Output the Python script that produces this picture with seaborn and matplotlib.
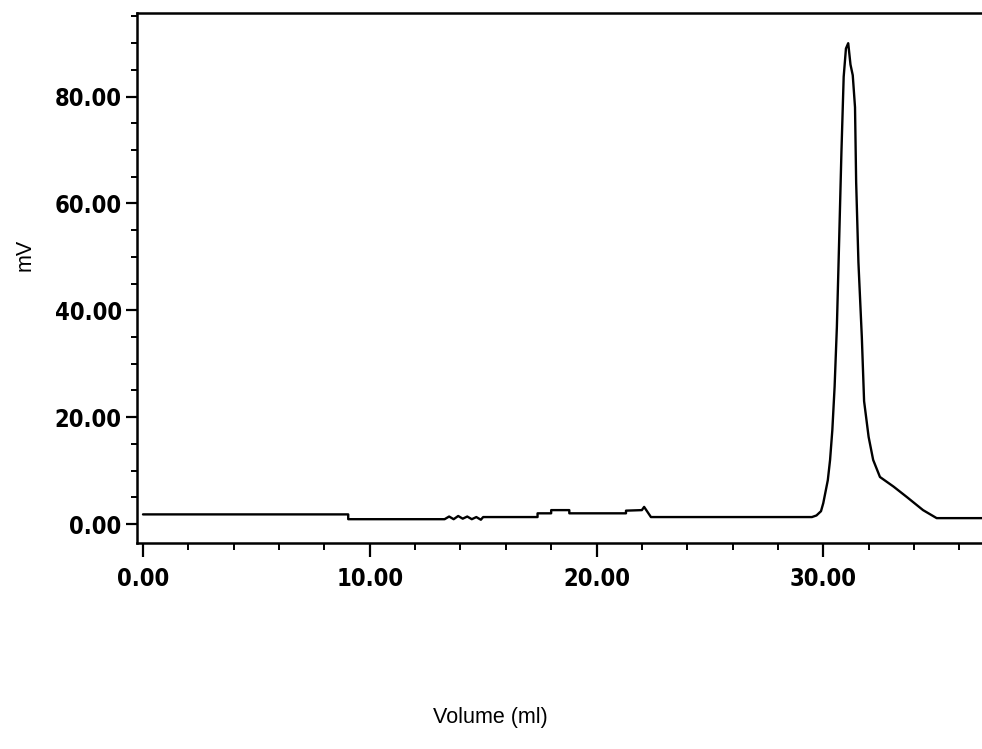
import numpy as np
import pandas as pd
import matplotlib
matplotlib.use("Agg")
import matplotlib.pyplot as plt
from matplotlib.ticker import MultipleLocator, FormatStrFormatter
import seaborn as sns

# Chromatogram trace (volume in ml, signal in mV)
volume = [0.0, 9.05, 9.05, 13.3, 13.5, 13.7, 13.9, 14.1, 14.3, 14.5, 14.7, 14.9, 15.0,
          17.4, 17.4, 18.0, 18.0, 18.8, 18.8, 21.3, 21.3, 22.0, 22.1, 22.4,
          29.5, 29.7, 29.9, 30.0, 30.2, 30.3, 30.4, 30.5, 30.6, 30.7, 30.8, 30.9,
          31.0, 31.1, 31.2, 31.3, 31.4, 31.45, 31.55, 31.7, 31.8, 32.0, 32.2,
          32.5, 33.1, 33.7, 34.4, 35.0, 37.2]
signal = [1.8, 1.8, 0.9, 0.9, 1.4, 0.9, 1.5, 1.0, 1.4, 0.9, 1.3, 0.8, 1.3,
          1.3, 2.0, 2.0, 2.6, 2.6, 2.0, 2.0, 2.5, 2.6, 3.2, 1.3,
          1.3, 1.6, 2.4, 3.9, 8.2, 12.0, 17.6, 25.7, 36.9, 53.0, 69.5, 83.7,
          89.0, 90.0, 86.0, 84.0, 78.0, 64.0, 49.0, 35.0, 23.0, 16.3, 12.0,
          8.8, 7.0, 5.0, 2.6, 1.1, 1.1]

x_major = [0, 10, 20, 30]
y_major = [0, 20, 40, 60, 80]

df = pd.DataFrame({"Volume (ml)": volume, "mV": signal})

sns.set_theme(style="ticks")
plt.rcParams["font.family"] = ["Liberation Sans", "DejaVu Sans"]

fig = plt.figure(figsize=(9.82, 7.49), dpi=100)
ax = fig.add_axes([0.1395, 0.275, 0.8605, 0.708])

sns.lineplot(data=df, x="Volume (ml)", y="mV", sort=False, estimator=None,
             color="black", linewidth=1.7, ax=ax)

ax.set_xlim(-0.265, 37.0)
ax.set_ylim(-3.56, 95.7)

ax.xaxis.set_major_locator(MultipleLocator(10))
ax.xaxis.set_minor_locator(MultipleLocator(2))
ax.yaxis.set_major_locator(MultipleLocator(20))
ax.yaxis.set_minor_locator(MultipleLocator(5))
ax.set_xticks(x_major)
ax.set_yticks(y_major)
ax.xaxis.set_major_formatter(FormatStrFormatter("%.2f"))
ax.yaxis.set_major_formatter(FormatStrFormatter("%.2f"))

for s in ["left", "bottom", "top"]:
    ax.spines[s].set_visible(True)
    ax.spines[s].set_linewidth(1.8)
    ax.spines[s].set_color("black")
ax.spines["right"].set_visible(False)

ax.tick_params(axis="x", which="major", direction="out", length=10, width=1.6, pad=7, colors="black")
ax.tick_params(axis="x", which="minor", direction="out", length=5, width=1.4, colors="black")
ax.tick_params(axis="y", which="major", direction="out", length=8, width=1.6, pad=3, colors="black")
ax.tick_params(axis="y", which="minor", direction="out", length=4, width=1.4, colors="black")
ax.tick_params(top=False, right=False, which="both")

for lab in ax.get_xticklabels() + ax.get_yticklabels():
    lab.set_fontfamily(["DejaVu Sans"])
    lab.set_fontstretch("condensed")
    lab.set_fontweight("bold")
    lab.set_fontsize(17)

ax.set_xlabel("")
ax.set_ylabel("")
fig.text(0.499, 1 - 717 / 749, "Volume (ml)", ha="center", va="center", fontsize=15.5, color="black")
fig.text(25 / 982, 1 - 255 / 749, "mV", ha="center", va="center", rotation=90, fontsize=15.5, color="black")

fig.savefig("out.png", dpi=100, facecolor="white")
